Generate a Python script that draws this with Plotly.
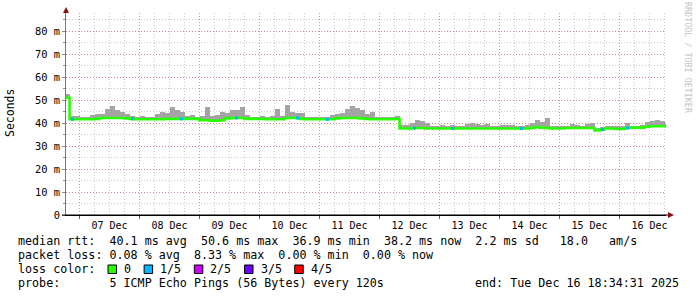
import plotly.graph_objects as go
import pandas as pd

# ---------------- data ----------------
bin_start = "2025-12-06 18:00"      # first 2-hour bin
bin_hours = 2
range_start = "2025-12-06 18:34:31"
range_end = "2025-12-16 18:34:31"

median_ms = [
    51.0, 41.6, 41.6, 41.6, 41.6, 41.6, 41.8, 42.2, 42.2, 42.2, 42.2, 42.2, 42.0, 41.8, 41.6, 41.6, 41.6, 41.6, 41.6, 41.6, 41.8,
    41.8, 41.8, 41.8, 41.8, 41.8, 41.8, 41.2, 41.2, 41.0, 41.0, 41.2, 42.0, 42.2, 42.2, 42.2, 41.8, 41.8, 41.8, 41.8,
    41.6, 41.6, 41.6, 41.6, 42.2, 42.2, 42.2, 41.8, 41.6, 41.6, 41.6, 41.6, 41.6, 41.6, 42.0, 42.2, 42.2, 42.2, 42.2, 42.0, 41.8,
    41.6, 41.6, 41.6, 41.6, 41.6, 41.8, 37.6, 37.6, 37.6, 37.8, 37.8, 37.6, 37.6, 37.6, 37.6, 37.6, 37.6, 37.6, 37.6,
    37.6, 37.6, 37.6, 37.6, 37.6, 37.6, 37.6, 37.6, 37.6, 37.6, 37.6, 37.6, 37.6, 37.8, 38.2, 38.0, 37.8, 37.6, 37.6, 37.6,
    37.8, 37.8, 37.8, 37.8, 37.8, 37.8, 36.8, 37.2, 37.6, 37.6, 37.4, 37.4, 37.8, 38.0, 38.0, 38.0, 38.4, 38.6, 38.6, 38.6, 38.6,
]
smoke_max_ms = [
    52.5, 43.0, 43.0, 42.8, 42.8, 43.5, 44.0, 44.0, 46.0, 47.4, 45.5, 45.0, 44.0, 43.0, 42.8, 43.2, 42.8, 42.8, 44.0, 45.0, 44.5,
    47.0, 45.5, 45.0, 43.0, 43.5, 42.8, 43.0, 46.8, 43.0, 43.5, 45.0, 44.5, 45.5, 45.5, 47.0, 43.5, 42.8, 42.8, 43.0,
    42.8, 43.0, 46.0, 43.2, 47.7, 45.0, 44.5, 44.5, 42.6, 42.6, 42.8, 42.6, 42.8, 43.5, 43.8, 44.5, 46.0, 47.3, 46.5, 45.5, 43.8,
    45.0, 42.6, 42.6, 42.6, 42.8, 43.0, 39.0, 39.2, 40.2, 41.3, 40.8, 40.0, 38.8, 38.6, 39.2, 38.6, 39.0, 38.8, 38.8,
    39.7, 40.0, 39.5, 39.3, 39.5, 38.6, 38.6, 39.0, 39.0, 39.0, 38.8, 38.8, 39.0, 39.8, 41.3, 40.5, 42.2, 38.8, 38.6, 38.6,
    38.8, 39.5, 39.3, 38.8, 39.5, 40.0, 38.0, 38.4, 38.6, 38.6, 38.6, 38.8, 40.0, 38.8, 38.8, 39.0, 40.5, 41.0, 41.3, 40.8, 40.0,
]
loss1_times = ["2025-12-06 21:12", "2025-12-07 21:12", "2025-12-08 16:48", "2025-12-09 14:48",
               "2025-12-10 15:12", "2025-12-11 03:12", "2025-12-12 14:00", "2025-12-13 05:12",
               "2025-12-14 08:48", "2025-12-15 17:12", "2025-12-16 03:12"]
loss1_ms = [41.6, 41.8, 41.8, 42.2, 42.2, 41.6, 37.8, 37.6, 37.6, 37.2, 37.8]

day_labels = ["07 Dec", "08 Dec", "09 Dec", "10 Dec", "11 Dec", "12 Dec", "13 Dec", "14 Dec", "15 Dec", "16 Dec"]
day_noons = ["2025-12-%02d 12:00" % d for d in range(7, 17)]
y_tickvals = [0, 10, 20, 30, 40, 50, 60, 70, 80]
y_ticktext = ["0", "10 m", "20 m", "30 m", "40 m", "50 m", "60 m", "70 m", "80 m"]

loss_labels = ["0", "1/5", "2/5", "3/5", "4/5"]
loss_colors = ["#26ff00", "#00b8ff", "#cc00ff", "#6a00ff", "#ff0000"]

legend_rtt = "median rtt:  40.1 ms avg  50.6 ms max  36.9 ms min  38.2 ms now  2.2 ms sd   18.0   am/s"
legend_loss = "packet loss: 0.08 % avg  8.33 % max  0.00 % min  0.00 % now"
legend_probe = "probe:       5 ICMP Echo Pings (56 Bytes) every 120s"
legend_end = "end: Tue Dec 16 18:34:31 2025"

# ---------------- figure ----------------
W, H = 697, 297
L, R, T, B = 66, 31, 13, 82
PW, PH = W - L - R, H - T - B
MONO = "DejaVu Sans Mono"

def px(x):
    return (x - L) / PW

def py(y):
    return (H - B - y) / PH

def nb(s):
    return s.replace(" ", "\u00a0")

times = pd.date_range(bin_start, periods=len(median_ms), freq=f"{bin_hours}h")
centers = times + pd.Timedelta(hours=bin_hours / 2)
ms_per_bin = bin_hours * 3600 * 1000

fig = go.Figure()
fig.add_trace(go.Bar(
    x=centers, y=[s - m for s, m in zip(smoke_max_ms, median_ms)], base=median_ms,
    width=ms_per_bin, marker=dict(color="#a4a4a4", line=dict(width=0)),
    showlegend=False, hoverinfo="skip"))
fig.add_trace(go.Scatter(
    x=list(times) + [pd.Timestamp(range_end)], y=median_ms + [median_ms[-1]],
    mode="lines", line=dict(color=loss_colors[0], width=2.6, shape="hv"),
    showlegend=False))
fig.add_trace(go.Scatter(
    x=loss1_times, y=loss1_ms, mode="markers",
    marker=dict(symbol="square", size=3, color=loss_colors[1], line=dict(width=0)),
    showlegend=False))
fig.add_trace(go.Scatter(x=[range_start], y=[None], xaxis="x2", showlegend=False, hoverinfo="skip"))

red_grid = "rgba(215,110,110,0.75)"
gray_grid = "#c8c8c8"
dash = "1px,2px"

fig.update_layout(
    width=W, height=H, margin=dict(l=L, r=R, t=T, b=B),
    paper_bgcolor="white", plot_bgcolor="white",
    bargap=0, font=dict(family=MONO, size=10, color="#000"),
    xaxis=dict(type="date", range=[range_start, range_end], tickmode="linear",
               tick0="2025-12-07", dtick=86400000, showticklabels=False,
               ticks="outside", ticklen=3, tickcolor="#b04040",
               showgrid=True, gridcolor=red_grid, griddash=dash, gridwidth=1,
               showline=True, linecolor="#000", linewidth=1, zeroline=False,
               minor=dict(tick0="2025-12-07", dtick=21600000, showgrid=True,
                          gridcolor=gray_grid, griddash=dash, ticks="")),
    xaxis2=dict(type="date", range=[range_start, range_end], overlaying="x", anchor="y",
                side="bottom", tickmode="array", tickvals=day_noons, ticktext=day_labels,
                showgrid=False, ticks="outside", ticklen=1, tickcolor="rgba(0,0,0,0)",
                showline=False, zeroline=False,
                tickfont=dict(family=MONO, size=10, color="#000")),
    yaxis=dict(range=[0, PH / 2.3], tickmode="array", tickvals=y_tickvals, ticktext=y_ticktext,
               ticks="outside", ticklen=3, tickcolor="#888",
               showgrid=True, gridcolor=red_grid, griddash=dash, gridwidth=1,
               showline=True, linecolor="#777", linewidth=1, zeroline=False,
               tickfont=dict(family=MONO, size=10.4, color="#000"),
               minor=dict(tick0=0, dtick=5, showgrid=True, gridcolor=gray_grid,
                          griddash=dash, ticks="outside", ticklen=2, tickcolor="#888")),
)

ann = []
ann.append(dict(text="Seconds", x=px(10), y=py(113), textangle=-90,
                font=dict(family=MONO, size=11.5, color="#000")))
ann.append(dict(text=nb("RRDTOOL / TOBI OETIKER"), x=px(688), y=py(58), textangle=90,
                font=dict(family=MONO, size=8.4, color="#c4c4c4")))
LF = 11.7
CW = 7.04
for txt, yy in [(legend_rtt, 241), (legend_loss, 255), ("loss color:", 269), (legend_probe, 283)]:
    ann.append(dict(text=nb(txt), x=px(16), y=py(yy), xanchor="left",
                    font=dict(family=MONO, size=LF, color="#000")))
ann.append(dict(text=nb(legend_end), x=px(681), y=py(283), xanchor="right",
                font=dict(family=MONO, size=LF, color="#000")))

shapes = []
bx = 108
for lab, col in zip(loss_labels, loss_colors):
    shapes.append(dict(type="rect", xref="paper", yref="paper",
                       x0=px(bx), x1=px(bx + 8.5), y0=py(273.5), y1=py(265),
                       fillcolor=col, line=dict(color="#000", width=1)))
    ann.append(dict(text=nb(lab), x=px(bx + 14), y=py(269), xanchor="left",
                    font=dict(family=MONO, size=LF, color="#000")))
    bx += 14 + CW * (len(lab) + 2) + 1
for a in ann:
    a.update(xref="paper", yref="paper", showarrow=False, yanchor="middle")
    a.setdefault("xanchor", "center")

arrow_col = "#8b1010"
shapes.append(dict(type="path", xref="paper", yref="paper",
                   path=f"M {px(63)} {py(13)} L {px(69)} {py(13)} L {px(66)} {py(7)} Z",
                   fillcolor=arrow_col, line=dict(width=0)))
shapes.append(dict(type="path", xref="paper", yref="paper",
                   path=f"M {px(668)} {py(212)} L {px(668)} {py(218)} L {px(674)} {py(215)} Z",
                   fillcolor=arrow_col, line=dict(width=0)))
shapes.append(dict(type="line", xref="paper", yref="paper", x0=px(62), x1=px(668),
                   y0=0, y1=0, line=dict(color="#000", width=1)))

fig.update_layout(annotations=ann, shapes=shapes)
fig.write_html("out.html")
